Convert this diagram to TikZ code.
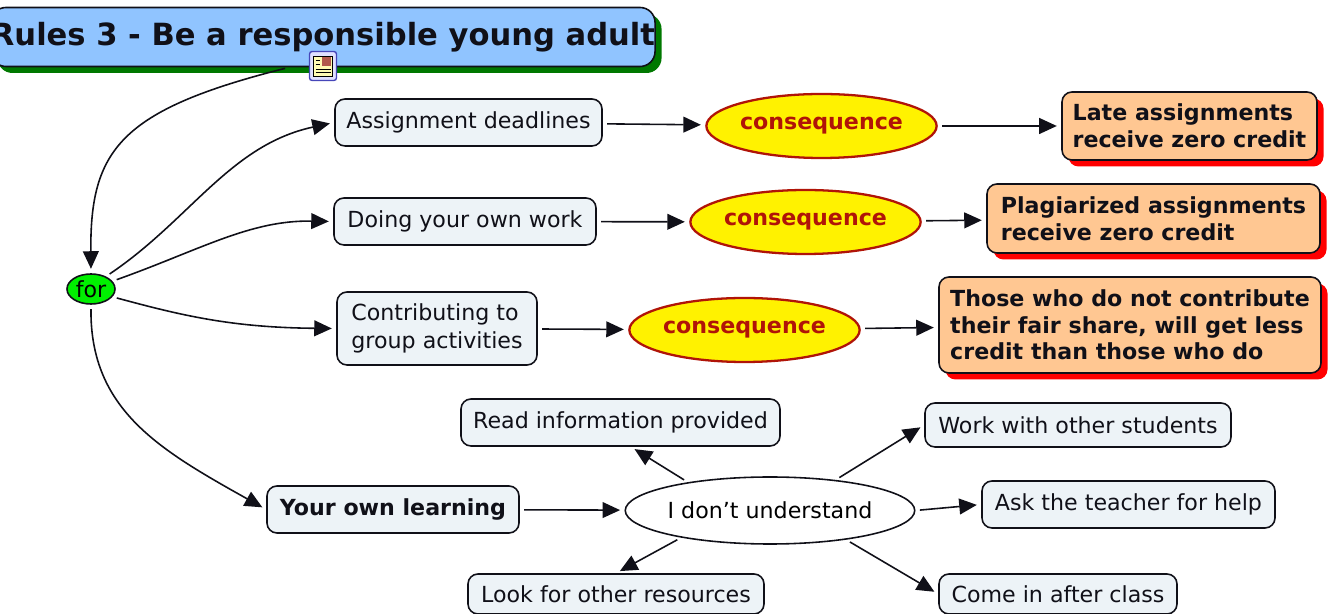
\documentclass[tikz,border=0pt]{standalone}
\usepackage{fontspec}
\setmainfont{DejaVu Sans}
\usetikzlibrary{arrows.meta,shapes.geometric,shadows}
\definecolor{titleblue}{HTML}{90C4FF}
\definecolor{titlegreen}{HTML}{007800}
\definecolor{forgreen}{HTML}{00F000}
\definecolor{palebox}{HTML}{EDF3F7}
\definecolor{peach}{HTML}{FFC792}
\definecolor{darkred}{HTML}{B01408}
\definecolor{inkdark}{HTML}{101018}
\begin{document}
\begin{tikzpicture}
    \tikzset{block/.style={rectangle, draw=inkdark, rounded corners=0.2cm, line width=0.9pt, fill=palebox, text=inkdark, inner sep=0pt, font=\fontsize{12.6}{16}\selectfont, align=left}}
    \tikzset{result/.style={block, fill=peach, font=\fontsize{12.6}{15.2}\selectfont\bfseries, drop shadow={shadow xshift=0.13cm, shadow yshift=-0.13cm, fill=red, opacity=1}}}
    \tikzset{conseq/.style={ellipse, draw=darkred, line width=1.3pt, fill=yellow, text=darkred, inner sep=0pt, minimum width=3.58cm, minimum height=1.28cm, font=\fontsize{12.6}{15}\selectfont\bfseries}}
    \tikzset{line/.style={draw=inkdark, line width=0.9pt, shorten <=2.5pt, shorten >=2.5pt, -{Triangle[length=10pt,width=9pt]}}}
    \useasboundingbox (0,0) rectangle (26.6,-12.28);

    \node[block, fill=titleblue, minimum width=12.76cm, minimum height=1.18cm, rounded corners=0.3cm, font=\fontsize{17.4}{20}\selectfont\bfseries, drop shadow={shadow xshift=0.13cm, shadow yshift=-0.13cm, fill=titlegreen, opacity=1}] (title) at (6.46,-0.74) {Rules 3 - Be a responsible young adult};
    \node[ellipse, draw=inkdark, line width=0.9pt, fill=forgreen, inner sep=0pt, minimum width=0.96cm, minimum height=0.6cm, font=\fontsize{12.6}{15}\selectfont] (for) at (1.82,-5.78) {for};

    \node[block, minimum width=5.34cm, minimum height=0.94cm] (deadlines) at (9.37,-2.45) {Assignment deadlines};
    \node[block, minimum width=5.24cm, minimum height=0.94cm] (ownwork) at (9.30,-4.43) {Doing your own work};
    \node[block, minimum width=4.00cm, minimum height=1.46cm] (group) at (8.74,-6.57) {Contributing to\\group activities};
    \node[block, minimum width=5.04cm, minimum height=0.94cm, font=\fontsize{12.6}{16}\selectfont\bfseries] (learning) at (7.86,-10.19) {Your own learning};

    \node[conseq] (conseqa) at (16.43,-2.52) {consequence};
    \node[conseq] (conseqb) at (16.11,-4.44) {consequence};
    \node[conseq] (conseqc) at (14.89,-6.60) {consequence};

    \node[result, minimum width=5.10cm, minimum height=1.36cm] (late) at (23.79,-2.52) {Late assignments\\receive zero credit};
    \node[result, minimum width=6.66cm, minimum height=1.38cm] (plagiarized) at (23.07,-4.37) {Plagiarized assignments\\receive zero credit};
    \node[result, minimum width=7.64cm, minimum height=1.92cm] (share) at (22.60,-6.50) {Those who do not contribute\\their fair share, will get less\\credit than those who do};

    \node[ellipse, draw=inkdark, line width=0.9pt, fill=white, inner sep=0pt, minimum width=4.40cm, minimum height=1.34cm, font=\fontsize{12.6}{15}\selectfont] (understand) at (15.40,-10.21) {I don't understand};
    \node[block, minimum width=6.38cm, minimum height=0.94cm] (read) at (12.41,-8.45) {Read information provided};
    \node[block, minimum width=6.12cm, minimum height=0.88cm] (students) at (21.56,-8.50) {Work with other students};
    \node[block, minimum width=5.86cm, minimum height=0.94cm] (teacher) at (22.57,-10.09) {Ask the teacher for help};
    \node[block, minimum width=5.92cm, minimum height=0.80cm] (resources) at (12.32,-11.88) {Look for other resources};
    \node[block, minimum width=4.76cm, minimum height=0.80cm] (afterclass) at (21.16,-11.88) {Come in after class};

    % icon on the title box
    \node[rectangle, draw=blue!45!gray, line width=0.8pt, fill=blue!12, rounded corners=1.5pt, minimum width=0.54cm, minimum height=0.58cm, inner sep=0pt] (icon) at (6.46,-1.32) {};
    \fill[yellow!30!white, draw=black, line width=0.5pt] (6.27,-1.12) rectangle (6.65,-1.52);
    \fill[orange!70!blue] (6.44,-1.15) rectangle (6.62,-1.32);
    \draw[black, line width=0.5pt] (6.31,-1.38) -- (6.61,-1.38) (6.31,-1.45) -- (6.61,-1.45) (6.31,-1.2) -- (6.39,-1.2) (6.31,-1.28) -- (6.39,-1.28);

    \draw[line] (title.-138) .. controls (2.4,-2.2) and (1.8,-3.0) .. (for.90);
    \draw[line] (for.40) .. controls (3.8,-4.4) and (4.6,-2.9) .. (deadlines.west);
    \draw[line] (for.20) .. controls (4.0,-5.0) and (5.0,-4.4) .. (ownwork.west);
    \draw[line] (for.-20) .. controls (3.6,-6.3) and (4.6,-6.55) .. (group.west);
    \draw[line] (for.-90) .. controls (1.8,-8.2) and (3.2,-9.0) .. (learning.west);

    \draw[line] (deadlines) -- (conseqa);
    \draw[line] (ownwork) -- (conseqb);
    \draw[line] (group) -- (conseqc);
    \draw[line] (conseqa) -- (late);
    \draw[line] (conseqb) -- (plagiarized);
    \draw[line] (conseqc) -- (share);
    \draw[line] (learning) -- (understand);

    \draw[line] (understand.161) -- (read.-67);
    \draw[line] (understand.25) -- (students.west);
    \draw[line] (understand.east) -- (teacher.west);
    \draw[line] (understand.-163) -- (resources.north);
    \draw[line] (understand.-21) -- (afterclass.west);
  \end{tikzpicture}
\end{document}
